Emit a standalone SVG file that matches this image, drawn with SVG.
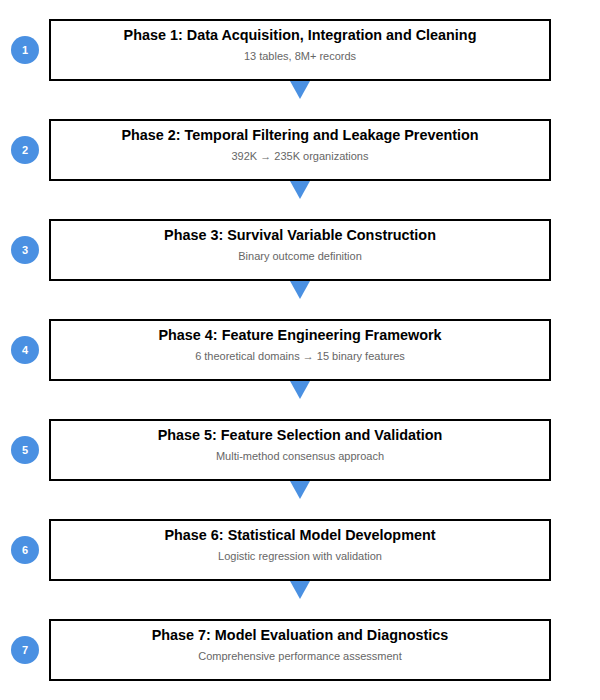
<svg xmlns="http://www.w3.org/2000/svg" width="600" height="700" viewBox="0 0 600 700">
<style>
.box{fill:#fff;stroke:#000;stroke-width:2}
.num{fill:#4a90e2}
.numt{font-family:"Liberation Sans",Arial,sans-serif;font-size:11px;font-weight:bold;fill:#fff;text-anchor:middle}
.title{font-family:"Liberation Sans",Arial,sans-serif;font-size:14.4px;font-weight:bold;fill:#000;text-anchor:middle}
.sub{font-family:"Liberation Sans",Arial,sans-serif;font-size:11px;fill:#666;text-anchor:middle}
.arr{fill:#4a90e2}
</style>
<rect width="600" height="700" fill="#fff"/>
<g id="phase1"><rect class="box" x="50" y="20" width="500" height="60"/><circle class="num" cx="25" cy="50" r="14"/><text class="numt" x="25" y="54">1</text><text class="title" x="300" y="40">Phase 1: Data Acquisition, Integration and Cleaning</text><text class="sub" x="300" y="60">13 tables, 8M+ records</text></g>
<g id="phase2"><rect class="box" x="50" y="120" width="500" height="60"/><circle class="num" cx="25" cy="150" r="14"/><text class="numt" x="25" y="154">2</text><text class="title" x="300" y="140">Phase 2: Temporal Filtering and Leakage Prevention</text><text class="sub" x="300" y="160">392K → 235K organizations</text></g>
<g id="phase3"><rect class="box" x="50" y="220" width="500" height="60"/><circle class="num" cx="25" cy="250" r="14"/><text class="numt" x="25" y="254">3</text><text class="title" x="300" y="240">Phase 3: Survival Variable Construction</text><text class="sub" x="300" y="260">Binary outcome definition</text></g>
<g id="phase4"><rect class="box" x="50" y="320" width="500" height="60"/><circle class="num" cx="25" cy="350" r="14"/><text class="numt" x="25" y="354">4</text><text class="title" x="300" y="340">Phase 4: Feature Engineering Framework</text><text class="sub" x="300" y="360">6 theoretical domains → 15 binary features</text></g>
<g id="phase5"><rect class="box" x="50" y="420" width="500" height="60"/><circle class="num" cx="25" cy="450" r="14"/><text class="numt" x="25" y="454">5</text><text class="title" x="300" y="440">Phase 5: Feature Selection and Validation</text><text class="sub" x="300" y="460">Multi-method consensus approach</text></g>
<g id="phase6"><rect class="box" x="50" y="520" width="500" height="60"/><circle class="num" cx="25" cy="550" r="14"/><text class="numt" x="25" y="554">6</text><text class="title" x="300" y="540">Phase 6: Statistical Model Development</text><text class="sub" x="300" y="560">Logistic regression with validation</text></g>
<g id="phase7"><rect class="box" x="50" y="620" width="500" height="60"/><circle class="num" cx="25" cy="650" r="14"/><text class="numt" x="25" y="654">7</text><text class="title" x="300" y="640">Phase 7: Model Evaluation and Diagnostics</text><text class="sub" x="300" y="660">Comprehensive performance assessment</text></g>
<g id="connectors">
<polygon class="arr" points="290,81 310,81 300,99"/>
<polygon class="arr" points="290,181 310,181 300,199"/>
<polygon class="arr" points="290,281 310,281 300,299"/>
<polygon class="arr" points="290,381 310,381 300,399"/>
<polygon class="arr" points="290,481 310,481 300,499"/>
<polygon class="arr" points="290,581 310,581 300,599"/>
</g>
</svg>
